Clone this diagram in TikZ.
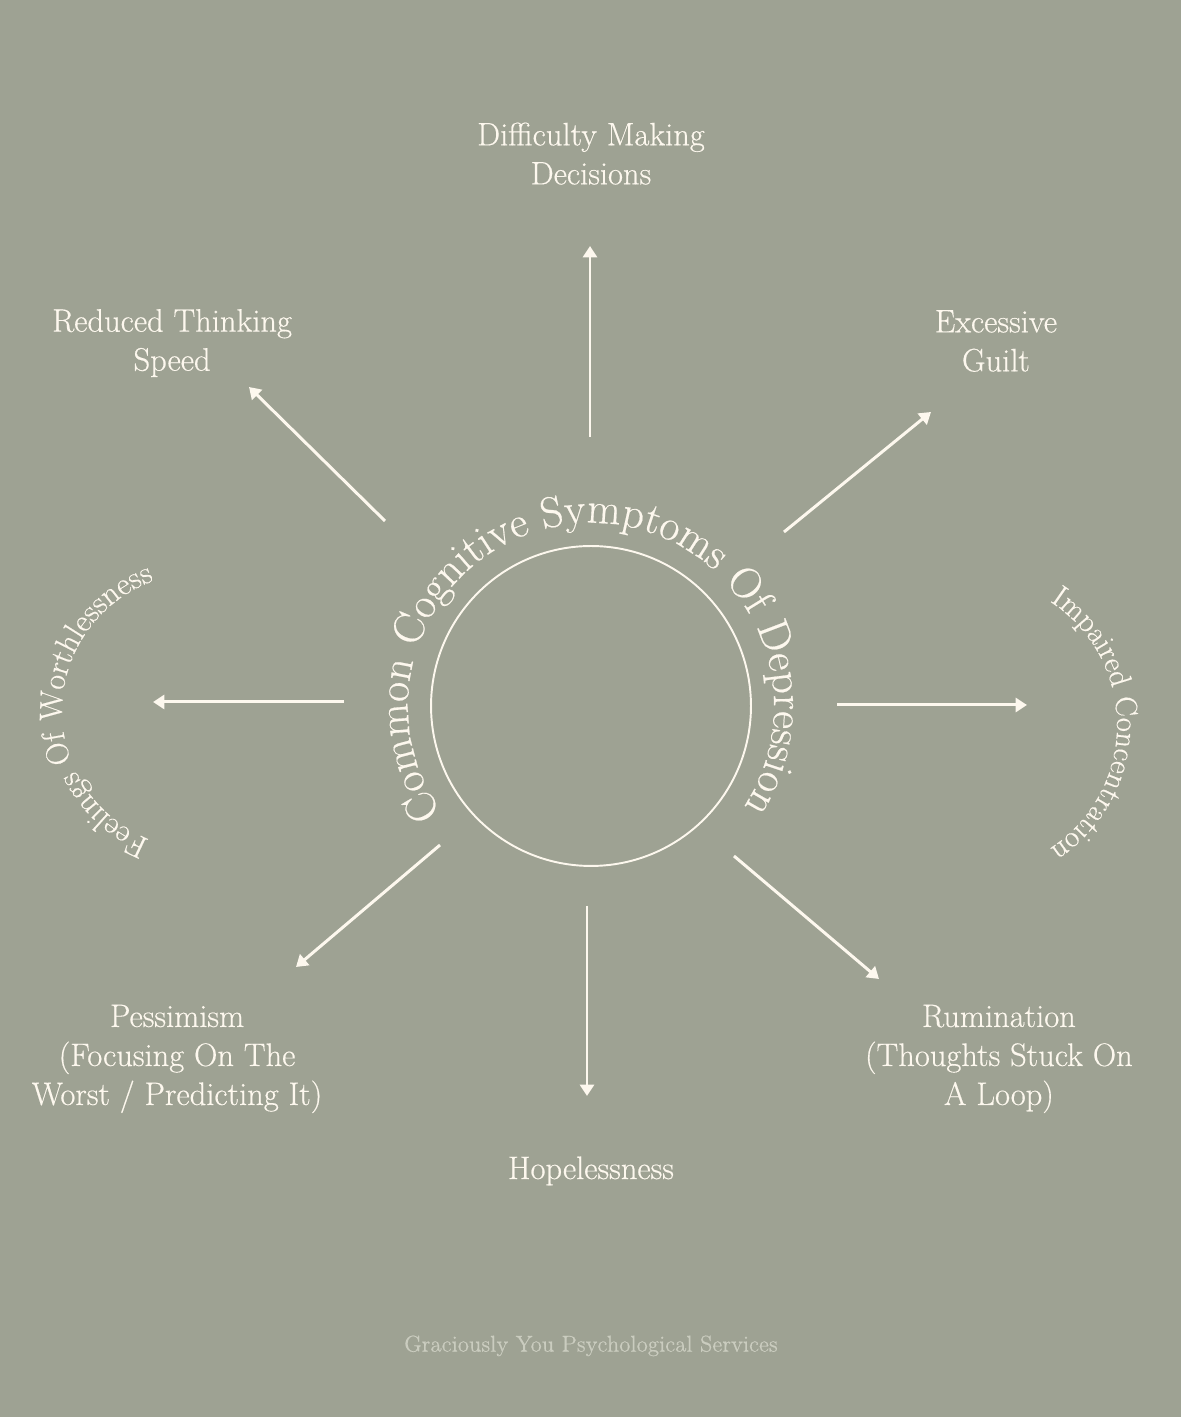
\documentclass[tikz,border=0pt]{standalone}
\usepackage{fontspec}
\setmainfont{Latin Modern Roman}[FakeBold=0.45]
\usetikzlibrary{arrows.meta, positioning, decorations.text}

\definecolor{sage}{HTML}{9EA293}
\definecolor{cream}{HTML}{FDF8EE}
\definecolor{mist}{HTML}{CACCBF}

\newcommand\ringtitlesize{\fontsize{24.8}{24.8}\selectfont}
\newcommand\sidetextsize{\fontsize{17.4}{17.4}\selectfont}
\newcommand\worthtextsize{\fontsize{18.2}{18.2}\selectfont}

\begin{document}
\begin{tikzpicture}[
    x=0.02cm, y=0.02cm,
    % Definición global de estilos
    symptom/.style = {text=cream, align=center, inner sep=0pt, font=\fontsize{18.5}{22.2}\selectfont},
    footer/.style = {text=mist, inner sep=0pt, font=\fontsize{13}{14}\selectfont},
    ring/.style = {circle, draw=cream, line width=1.1pt, minimum size=6.4cm, inner sep=0pt},
    ray/.style = {draw=cream, fill=cream, line width=1.7pt, -{Triangle[length=6.5pt, width=8pt]}}
]

% ===============================
% 0. Fondo
% ===============================
\useasboundingbox (0,0) rectangle (1181,1417);
\fill [sage] (0,0) rectangle (1181,1417);

% ===============================
% 1. Círculo central y título
% ===============================
\node (ring) [ring] at (591,711) {};

\path [decorate, decoration={text along path, text align=center, text color=cream,
    text={|\ringtitlesize|Common Cognitive Symptoms Of Depression}}]
    (ring.center) ++(235:183) arc[start angle=235, end angle=-53, radius=183];

% ===============================
% 2. Síntomas
% ===============================
\node (decisions) [symptom, on grid, above=11.05cm of ring] {Difficulty Making\\Decisions};
\node (thinking) [symptom, on grid, above left=7.26cm and 8.38cm of ring] {Reduced Thinking\\Speed};
\node (guilt) [symptom, on grid, above right=7.3cm and 8.1cm of ring] {Excessive\\Guilt};
\node (pessimism) [symptom, on grid, below left=7.06cm and 8.28cm of ring] {Pessimism\\(Focusing On The\\Worst / Predicting It)};
\node (hopeless) [symptom, on grid, below=9.3cm of ring] {Hopelessness};
\node (rumination) [symptom, on grid, below right=7.06cm and 8.16cm of ring] {Rumination\\(Thoughts Stuck On\\A Loop)};

% textos curvos laterales
\coordinate (concC) at (970,692);
\coordinate (worthC) at (200,706);
\path [decorate, decoration={text along path, text align=center, text color=cream,
    text={|\sidetextsize|Impaired Concentration}}]
    (concC) ++(88:147) arc[start angle=88, end angle=-88, radius=147];
\path [decorate, decoration={text along path, text align=center, text color=cream,
    text={|\worthtextsize|Feelings Of Worthlessness}}]
    (worthC) ++(269:138) arc[start angle=269, end angle=89, radius=138];

\node (credit) [footer, on grid, below=12.8cm of ring] {Graciously You Psychological Services};

% ===============================
% 3. Flechas
% ===============================
\coordinate (upA) at (590,980);    \coordinate (upB) at (590,1171);
\coordinate (ulA) at (385,896);    \coordinate (ulB) at (249,1030);
\coordinate (urA) at (784,885);    \coordinate (urB) at (931,1005);
\coordinate (lfA) at (344,715);    \coordinate (lfB) at (153,715);
\coordinate (rtA) at (837,712);    \coordinate (rtB) at (1027,712);
\coordinate (dlA) at (440,572);    \coordinate (dlB) at (296,450);
\coordinate (dnA) at (587,511);    \coordinate (dnB) at (587,321);
\coordinate (drA) at (734,561);    \coordinate (drB) at (879,438);

\draw [ray] (upA) -- (upB);
\draw [ray] (ulA) -- (ulB);
\draw [ray] (urA) -- (urB);
\draw [ray] (lfA) -- (lfB);
\draw [ray] (rtA) -- (rtB);
\draw [ray] (dlA) -- (dlB);
\draw [ray] (dnA) -- (dnB);
\draw [ray] (drA) -- (drB);

\end{tikzpicture}
\end{document}
